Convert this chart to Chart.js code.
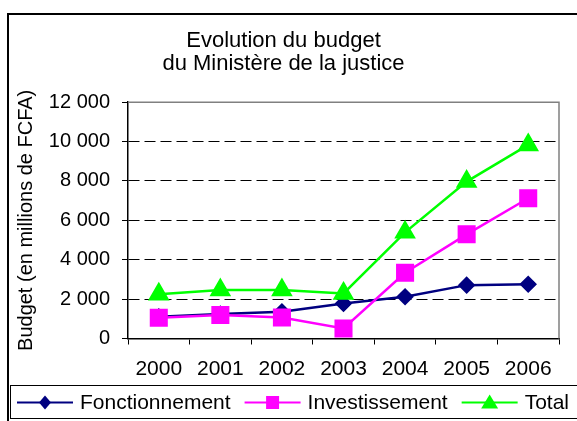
<!DOCTYPE html>
<html>
<head>
<meta charset="utf-8">
<script src="https://cdn.jsdelivr.net/npm/chart.js@4/dist/chart.umd.min.js"></script>
<style>
  body { margin: 0; background: #fff; }
  canvas { display: block; }
</style>
</head>
<body>
<canvas id="budgetChart" width="577" height="421"></canvas>
<script>
const years = ["2000", "2001", "2002", "2003", "2004", "2005", "2006"];
const fonctionnement = [1100, 1240, 1360, 1780, 2120, 2710, 2760];
const investissement = [1050, 1190, 1070, 510, 3340, 5290, 7120];
const total = [2250, 2460, 2460, 2290, 5390, 7970, 9830];
const yMin = 0, yMax = 12000, yStep = 2000;

const FONT = "'Liberation Sans', Arial, sans-serif";

function formatThousands(v) {
    return String(v).replace(/\B(?=(\d{3})+(?!\d))/g, " ");
}

// frame around the chart, gray plot border and the boxed legend at the bottom
const decorations = {
    id: "decorations",
    beforeDraw(chart) {
        const ctx = chart.ctx;
        ctx.save();
        ctx.fillStyle = "#fff";
        ctx.fillRect(0, 0, chart.width, chart.height);
        ctx.strokeStyle = "#000";
        ctx.lineWidth = 2;
        ctx.beginPath();
        ctx.moveTo(8, chart.height + 2);
        ctx.lineTo(8, 14);
        ctx.lineTo(chart.width + 2, 14);
        ctx.stroke();
        ctx.restore();
    },
    afterDraw(chart) {
        const ctx = chart.ctx;
        const a = chart.chartArea;
        ctx.save();
        ctx.strokeStyle = "#808080";
        ctx.lineWidth = 1.5;
        ctx.beginPath();
        ctx.moveTo(a.left, a.top);
        ctx.lineTo(a.right, a.top);
        ctx.lineTo(a.right, a.bottom);
        ctx.stroke();

        // legend box
        ctx.strokeStyle = "#000";
        ctx.lineWidth = 1;
        ctx.strokeRect(10.5, 385.5, chart.width + 5, 33);

        const ly = 402.5;
        let x = 17;
        ctx.font = "21px " + FONT;
        ctx.textBaseline = "middle";
        ctx.fillStyle = "#000";
        chart.data.datasets.forEach(ds => {
            ctx.strokeStyle = ds.borderColor;
            ctx.lineWidth = 2;
            ctx.beginPath();
            ctx.moveTo(x, ly);
            ctx.lineTo(x + 56, ly);
            ctx.stroke();
            drawMarker(ctx, ds.pointStyle, x + 28, ly, ds.borderColor);
            ctx.fillStyle = "#000";
            ctx.fillText(ds.label, x + 63, ly + 1);
            x += 63 + ctx.measureText(ds.label).width + 14;
        });
        ctx.restore();
    }
};

function drawMarker(ctx, style, x, y, color) {
    ctx.fillStyle = color;
    ctx.beginPath();
    if (style === "rectRot") {
        ctx.moveTo(x, y - 7); ctx.lineTo(x + 6, y); ctx.lineTo(x, y + 7); ctx.lineTo(x - 6, y);
    } else if (style === "rect") {
        ctx.rect(x - 6.5, y - 6.5, 13, 13);
    } else {
        ctx.moveTo(x, y - 8); ctx.lineTo(x + 8.5, y + 6); ctx.lineTo(x - 8.5, y + 6);
    }
    ctx.closePath();
    ctx.fill();
}

new Chart(document.getElementById("budgetChart"), {
    type: "line",
    data: {
        labels: years,
        datasets: [
            {
                label: "Fonctionnement",
                data: fonctionnement,
                borderColor: "#000080",
                backgroundColor: "#000080",
                pointStyle: "rectRot",
                pointRadius: 7,
                borderWidth: 2.5,
                order: 2
            },
            {
                label: "Investissement",
                data: investissement,
                borderColor: "#FF00FF",
                backgroundColor: "#FF00FF",
                pointStyle: "rect",
                pointRadius: 11,
                borderWidth: 2.5,
                order: 1
            },
            {
                label: "Total",
                data: total,
                borderColor: "#00FF00",
                backgroundColor: "#00FF00",
                pointStyle: "triangle",
                pointRadius: 10,
                borderWidth: 2.5,
                order: 0
            }
        ]
    },
    options: {
        responsive: false,
        animation: false,
        layout: { padding: { left: 8, right: 18, top: 0, bottom: 36 } },
        elements: {
            line: { tension: 0 },
            point: { borderWidth: 0, hoverRadius: 7 }
        },
        plugins: {
            legend: { display: false },
            tooltip: { enabled: false },
            title: {
                display: true,
                text: ["Evolution du budget", "du Ministère de la justice"],
                color: "#000",
                font: { family: FONT, size: 22, weight: "normal", lineHeight: 1.05 },
                padding: { top: 29, bottom: 27 }
            }
        },
        scales: {
            x: {
                offset: true,
                grid: {
                    offset: true,
                    drawOnChartArea: false,
                    tickLength: 6,
                    color: "#000",
                    tickColor: "#000"
                },
                border: { color: "#000", width: 1.5 },
                ticks: {
                    color: "#000",
                    padding: 12,
                    maxRotation: 0,
                    font: { family: FONT, size: 21 }
                },
                afterFit(scale) { scale.height = 46.5; }
            },
            y: {
                min: yMin,
                max: yMax,
                grid: {
                    tickLength: 6,
                    color: ctx => (ctx.tick && ctx.tick.value > yMin && ctx.tick.value < yMax) ? "#000" : "rgba(0,0,0,0)",
                    tickColor: "#000",
                    tickBorderDash: []
                },
                border: {
                    color: "#000",
                    width: 1.5,
                    dash: ctx => (ctx.tick && ctx.tick.value > yMin && ctx.tick.value < yMax) ? [11, 5] : []
                },
                ticks: {
                    stepSize: yStep,
                    color: "#000",
                    padding: 12,
                    font: { family: FONT, size: 20 },
                    callback: v => formatThousands(v)
                },
                title: {
                    display: true,
                    text: "Budget (en millions de FCFA)",
                    color: "#000",
                    font: { family: FONT, size: 20 },
                    padding: { top: 6, bottom: 0 }
                },
                afterFit(scale) { scale.width = 120; }
            }
        }
    },
    plugins: [decorations]
});
</script>
</body>
</html>
